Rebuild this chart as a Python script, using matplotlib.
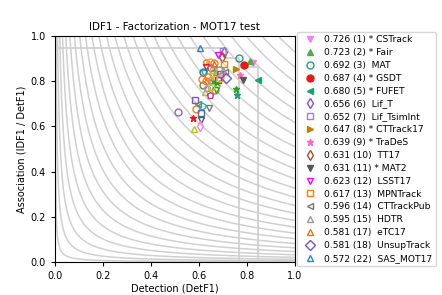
import numpy as np
import matplotlib
matplotlib.use('Agg')
import matplotlib.pyplot as plt

# Trackers shown in the legend: (IDF1, rank, private-detections flag, name)
names = ['CSTrack', 'Fair', 'MAT', 'GSDT', 'FUFET', 'Lif_T', 'Lif_TsimInt',
         'CTTrack17', 'TraDeS', 'TT17', 'MAT2', 'LSST17', 'MPNTrack',
         'CTTrackPub', 'HDTR', 'eTC17', 'UnsupTrack', 'SAS_MOT17']
idf1 = [0.726, 0.723, 0.692, 0.687, 0.680, 0.656, 0.652, 0.647, 0.639,
        0.631, 0.631, 0.623, 0.617, 0.596, 0.595, 0.581, 0.581, 0.572]
ranks = [1, 2, 3, 4, 5, 6, 7, 8, 9, 10, 11, 12, 13, 14, 15, 17, 18, 22]
starred = [True, True, False, True, True, False, False, True, True,
           False, True, False, False, False, False, False, False, False]
det = [0.825, 0.814, 0.766, 0.790, 0.845, 0.705, 0.700, 0.757, 0.771,
       0.695, 0.783, 0.680, 0.704, 0.708, 0.700, 0.665, 0.712, 0.604]
ass = [0.880, 0.888, 0.903, 0.870, 0.805, 0.930, 0.932, 0.853, 0.827,
       0.908, 0.806, 0.916, 0.877, 0.842, 0.850, 0.874, 0.816, 0.947]
markers = ['v', '^', 'o', 'o', '<', 'd', 's', '>', '*', 'd', 'v', 'v', 's',
           '<', '^', '^', 'D', '^']
colors = ['violet', '#4daf4a', '#20a080', '#e41a1c', '#1f9e6e', '#7e57c2',
          '#9d7fd6', 'darkgoldenrod', 'hotpink', 'sienna', '#555555',
          'magenta', '#f07f1e', '#777777', '#999999', '#f26d21', '#6a5acd',
          '#3a7fc1']
filled = [True, True, False, True, True, False, False, True, True, False,
          True, False, False, False, False, False, False, False]

# Remaining trackers (no legend entry)
other_det = [0.632, 0.646, 0.662, 0.628, 0.622, 0.618, 0.685, 0.646, 0.680,
             0.660, 0.618, 0.625, 0.667, 0.646, 0.670, 0.640, 0.655, 0.672,
             0.690, 0.650, 0.757, 0.761, 0.514, 0.583, 0.590, 0.615, 0.643,
             0.576, 0.611, 0.608, 0.580, 0.604, 0.630, 0.675, 0.688, 0.636,
             0.612, 0.650, 0.660, 0.598]
other_ass = [0.886, 0.886, 0.879, 0.864, 0.838, 0.842, 0.850, 0.805, 0.805,
             0.798, 0.783, 0.754, 0.761, 0.739, 0.760, 0.820, 0.830, 0.840,
             0.830, 0.860, 0.765, 0.739, 0.665, 0.717, 0.677, 0.692, 0.683,
             0.636, 0.658, 0.628, 0.587, 0.602, 0.800, 0.790, 0.815, 0.772,
             0.810, 0.775, 0.850, 0.700]
other_markers = ['p', 'o', 'o', 'v', 'v', 'o', 'o', 'p', 's', 'x', 'o', '^',
                 'o', 'p', 'v', 'o', 'd', '^', 's', 'h', '*', '*', 'o', 's',
                 'o', 'h', 'v', '*', 's', 'v', '^', 'd', 'o', 'x', 'o', 'p',
                 'o', 's', 'o', '<']
other_colors = ['#f07f1e', '#e0b020', '#f07f1e', '#e41a1c', '#17becf',
                '#1f77b4', '#17becf', '#e377c2', '#e41a1c', '#2ca02c',
                '#2ca02c', '#9acd32', '#f07f1e', '#d62798', '#2ca02c',
                '#f07f1e', '#bcbd22', '#17becf', '#d62798', '#9467bd',
                '#2ca02c', '#1f9e6e', '#9467bd', '#7e57c2', '#f07f1e',
                '#17becf', '#777777', '#e41a1c', '#4a6fa5', '#555577',
                '#bcbd22', 'violet', '#f07f1e', '#2ca02c', '#f5a623',
                '#e377c2', '#f07f1e', '#9acd32', '#e0b020', '#777777']
other_filled = [False, False, False, False, False, False, False, False, False,
                True, False, False, False, False, False, False, False, False,
                False, False, True, True, False, False, False, False, False,
                True, False, False, False, False, False, True, False, False,
                False, False, False, False]

# Pareto-style boundary lines
front1_x = [0.0, 0.714, 0.714, 0.766, 0.766]
front1_y = [0.945, 0.945, 0.903, 0.903, 0.0]
front2_x = [0.766, 0.845, 0.845]
front2_y = [0.864, 0.864, 0.0]

# background curves: DetF1 * Assoc = (k/28)^2
bg_levels = (np.arange(1, 29) / 28.0) ** 2

fig = plt.figure(figsize=(4.42, 2.95), dpi=100)
ax = fig.add_axes([0.124, 0.112, 0.543, 0.766])

xs = np.linspace(0.0005, 1.0, 800)
for c in bg_levels:
    ax.plot(xs, c / xs, color='#d0d0d0', linewidth=1.1, zorder=1)

ax.plot(front1_x, front1_y, color='#d0d0d0', linewidth=1.3, zorder=1)
ax.plot(front2_x, front2_y, color='#d0d0d0', linewidth=1.3, zorder=1)

for x, y, m, col, f in zip(other_det, other_ass, other_markers, other_colors, other_filled):
    ax.plot(x, y, m, color=col, markersize=5, mew=1.0,
            markerfacecolor=col if f else 'none', zorder=3)

for i in range(len(names)):
    star = '* ' if starred[i] else ' '
    label = f'{idf1[i]:.3f} ({ranks[i]}) {star}{names[i]}'
    ax.plot(det[i], ass[i], markers[i], color=colors[i], markersize=5, mew=1.0,
            markerfacecolor=colors[i] if filled[i] else 'none', zorder=4,
            label=label)

ax.set_xlim(0, 1)
ax.set_ylim(0, 1)
ax.set_xticks(np.arange(0, 1.01, 0.2))
ax.set_yticks(np.arange(0, 1.01, 0.2))
ax.tick_params(labelsize=7, length=3)
ax.set_xlabel('Detection (DetF1)', fontsize=7, labelpad=2)
ax.set_ylabel('Association (IDF1 / DetF1)', fontsize=7, labelpad=3)
ax.set_title('IDF1 - Factorization - MOT17 test', fontsize=7.5, pad=4)

ax.legend(loc='upper left', bbox_to_anchor=(1.009, 1.019), fontsize=6.6,
          labelspacing=0.42, handlelength=2.0, handletextpad=0.6,
          borderaxespad=0.0, frameon=True)

fig.savefig('out.png', dpi=100)
